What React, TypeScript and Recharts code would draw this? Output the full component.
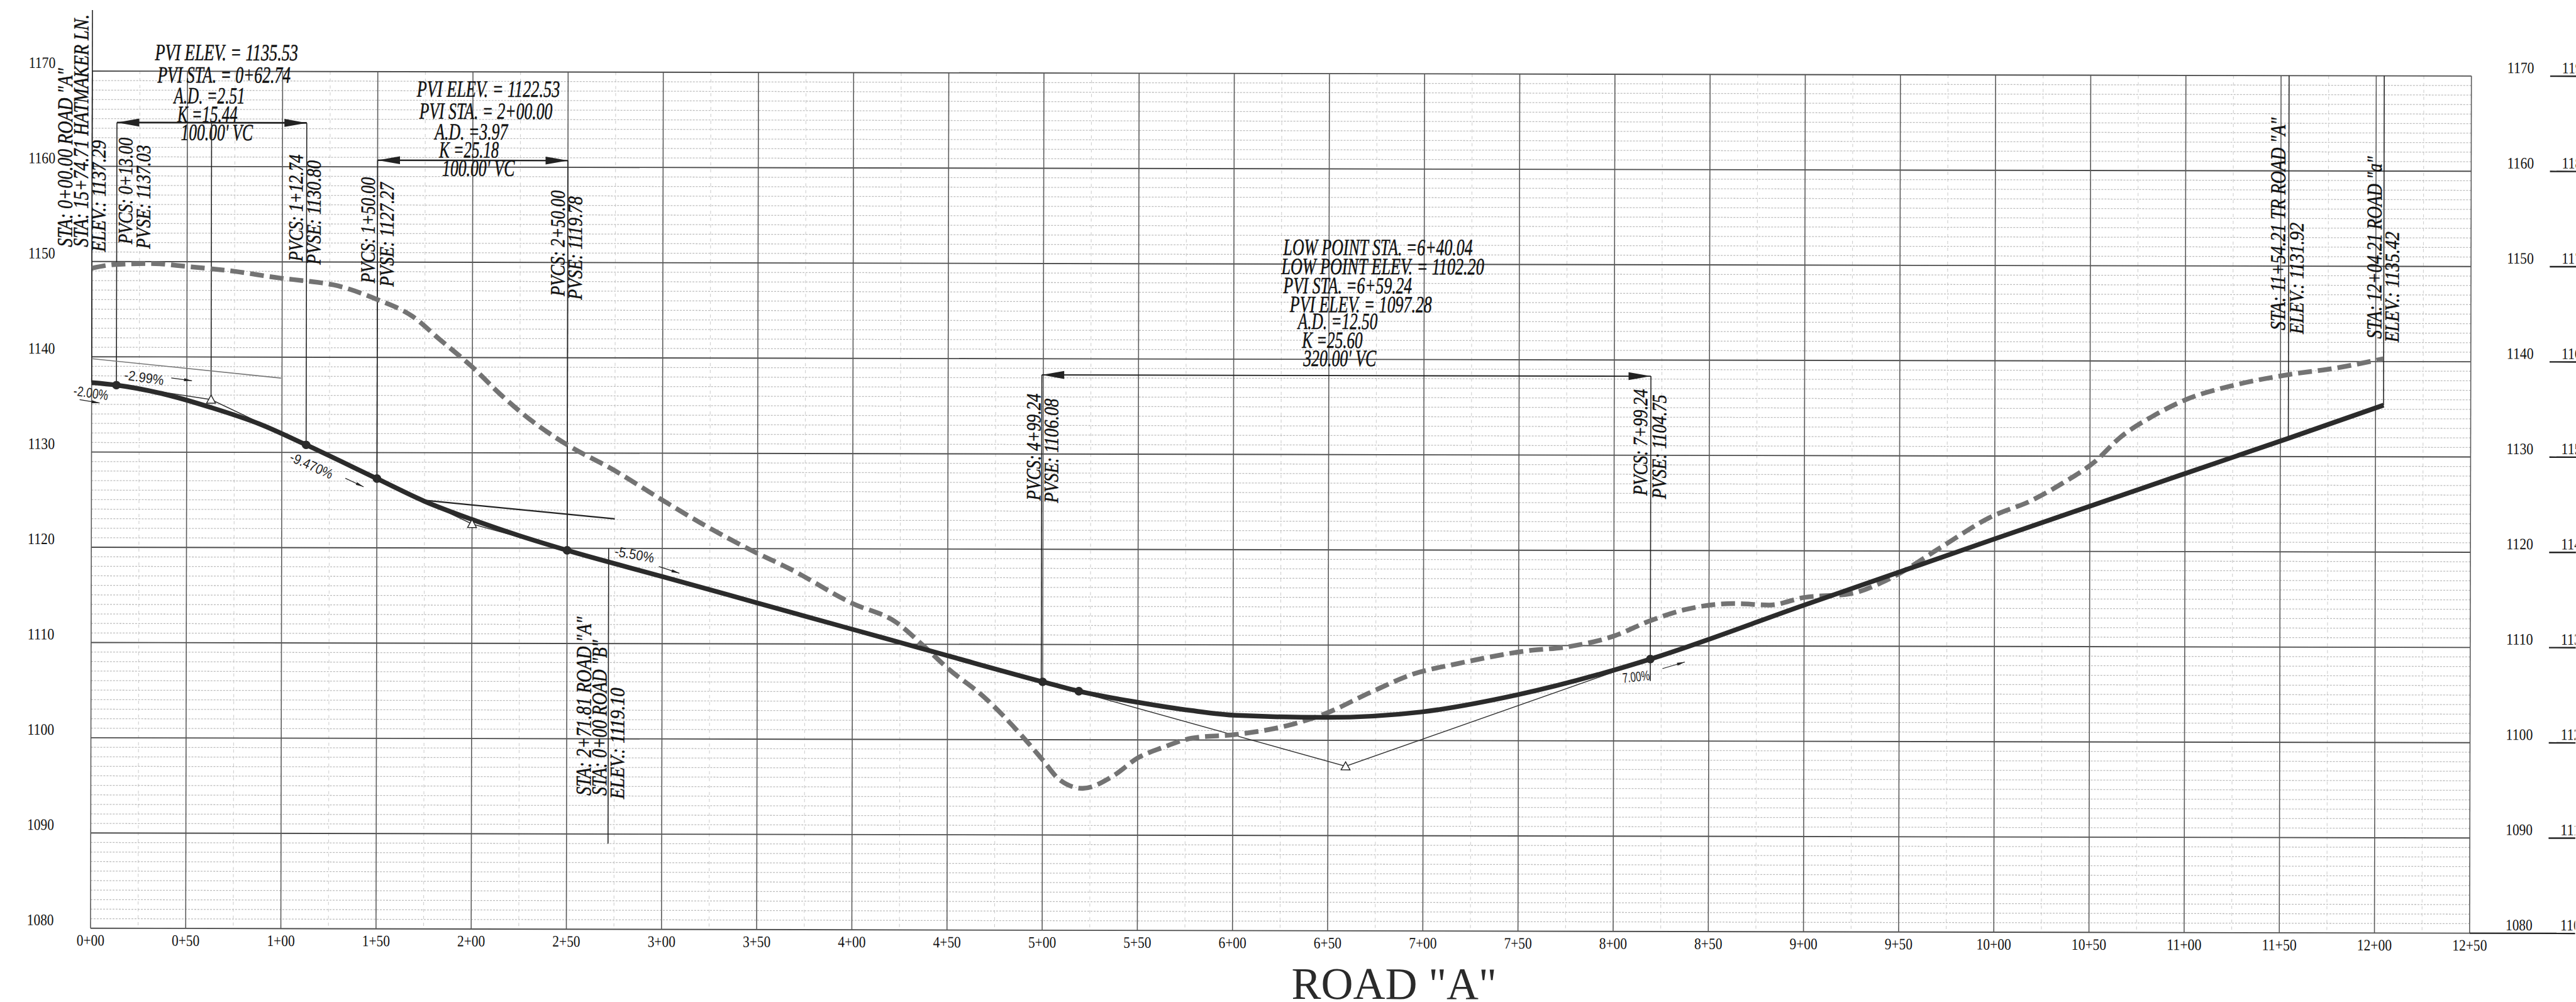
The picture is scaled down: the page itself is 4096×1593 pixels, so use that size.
import { CartesianGrid, ComposedChart, Line, ReferenceLine, XAxis, YAxis } from "recharts";

// everything below was measured on the 5184 wide reference, S brings it to the window
const S = 0.79;
const TILT = 0.0021; // the scan sits about 0.12deg clockwise
const WIDTH = 4096;
const HEIGHT = 1593;
const PLOT_LEFT = 184 * S;
const PLOT_RIGHT = 4972.5 * S;
const PLOT_TOP = 148 * S;
const PLOT_BOTTOM = 1873 * S;
const NEXT_SHEET_X = 5131 * S;

const stationTicks = [
  0, 50, 100, 150, 200, 250, 300, 350, 400, 450, 500, 550, 600, 650, 700, 750, 800, 850, 900, 950, 1000, 1050,
  1100, 1150, 1200, 1250,
];
const stationLabels = [
  "0+00", "0+50", "1+00", "1+50", "2+00", "2+50", "3+00", "3+50", "4+00", "4+50", "5+00", "5+50", "6+00", "6+50",
  "7+00", "7+50", "8+00", "8+50", "9+00", "9+50", "10+00", "10+50", "11+00", "11+50", "12+00", "12+50",
];
const elevTicks = [1080, 1090, 1100, 1110, 1120, 1130, 1140, 1150, 1160, 1170];
// the next profile on the sheet starts at the right edge and is cut off by it
const nextSheetLabels = ["1100", "1110", "1120", "1130", "1140", "1150", "1160", "1170", "1180", "1190"];

const minorStations = stationTicks.slice(0, -1).map((s) => s + 25);
const minorElevs = Array.from({ length: 91 }, (_, i) => 1080 + i).filter((e) => e % 10 !== 0);

const gradeStations = [
  0, 13, 38, 62.74, 88, 112.74, 150, 175, 200, 225, 250, 300, 350, 400, 450, 500, 519, 550, 578, 602, 648, 699, 749,
  799.5, 819.24, 900, 1000, 1100, 1154.21, 1204.21,
];
const gradeElevs = [
  1137.29, 1137.03, 1136.1, 1134.7, 1133.0, 1130.8, 1127.27, 1124.9, 1123.0, 1121.3, 1119.78, 1117.05, 1114.3,
  1111.55, 1108.8, 1106.08, 1105.1, 1103.95, 1103.1, 1102.6, 1102.4, 1103.0, 1104.8, 1107.4, 1108.6, 1114.3, 1121.3,
  1128.2, 1131.92, 1135.42,
];

const groundStations = [
  0, 12.5, 31, 50, 75, 99, 112.7, 127, 149.6, 168.6, 182.8, 200, 215, 231.7, 250.4, 273.7, 299.8, 320, 346, 366.9,
  399.6, 422.9, 437, 450, 469.6, 490.5, 500, 509, 521, 537, 550, 563, 578.5, 601.9, 629.8, 648.5, 671.8, 695, 718.5,
  753, 776.8, 799.9, 818.8, 837.4, 863, 881.7, 900, 924, 944, 971.8, 997, 1020, 1036, 1052.4, 1066, 1082, 1100.8,
  1126, 1154, 1179, 1204,
];
const groundElevs = [
  1149.3, 1149.7, 1149.8, 1149.5, 1149.0, 1148.3, 1148.0, 1147.6, 1146.1, 1144.3, 1141.9, 1139.0, 1136.1, 1133.3,
  1130.8, 1128.3, 1125.1, 1122.7, 1119.9, 1117.9, 1114.3, 1112.3, 1109.9, 1107.5, 1104.4, 1100.1, 1097.9, 1095.8,
  1094.9, 1096.2, 1098.1, 1099.2, 1100.2, 1100.6, 1101.6, 1102.8, 1105.0, 1107.0, 1108.1, 1109.4, 1109.9, 1111.0,
  1112.6, 1113.8, 1114.45, 1114.3, 1115.1, 1115.5, 1117.0, 1120.4, 1123.5, 1125.4, 1127.2, 1129.4, 1132.0, 1134.1,
  1136.0, 1137.5, 1138.6, 1139.3, 1140.3,
];

const pvcStations = [13, 112.74, 150, 250, 500, 519, 819.24];
const pvcElevs = [1137.03, 1130.8, 1127.27, 1119.78, 1106.08, 1105.1, 1108.6];
const pviStations = [62.74, 200, 659.24];
const pviElevs = [1135.53, 1122.53, 1097.28];

const zip = (xs: number[], ys: number[]) => xs.map((station, i) => ({ station, elev: ys[i] }));

const gradeData = zip(gradeStations, gradeElevs);
const groundData = zip(groundStations, groundElevs);
const pvcData = zip(pvcStations, pvcElevs);
const pviData = zip(pviStations, pviElevs);
const tangents = [
  zip([13, 62.74, 112.74], [1137.03, 1135.53, 1130.8]),
  zip([150, 200, 250], [1127.27, 1122.53, 1119.78]),
  zip([500, 659.24, 819.24], [1106.08, 1097.28, 1108.6]),
];
const oldTangent = zip([0, 99.5], [1139.8, 1137.8]);
const roadBGrade = zip([175, 275], [1125, 1123.1]);

// [station, from elev, to elev]
const leaders = [
  [0, 1176.4, 1137.3],
  [13, 1164.6, 1137.03],
  [62.74, 1164.6, 1135.53],
  [112.74, 1164.6, 1130.8],
  [150, 1160.7, 1127.27],
  [250, 1160.7, 1119.78],
  [271.81, 1120, 1089],
  [499.24, 1138.3, 1106.08],
  [819.24, 1138.3, 1106.3],
  [1154.21, 1170, 1131.92],
  [1204.21, 1170, 1135.42],
];
// [from station, to station, elev, line width]
const spans = [
  [13, 112.74, 1164.6, 3.5],
  [150, 250, 1160.7, 3],
  [499.24, 819.24, 1138.3, 2.5],
];
// [station, elev, station, elev]
const slopeArrows = [
  [-6.3, 1135.5, 4.2, 1135.15],
  [41.8, 1137.8, 52.7, 1137.5],
  [133.4, 1127.3, 143, 1126.4],
  [298.2, 1118.1, 309, 1117.4],
  [825.6, 1107.6, 837.4, 1108.3],
];

// [text, baseline x, bottom y, length, font size] in reference pixels
const verticalNotes: [string, number, number, number, number?][] = [
  ['STA: 0+00.00 ROAD "A"', 145, 497, 360, 43],
  ["STA: 15+74.71 HATMAKER LN.", 177, 497, 468, 43],
  ["ELEV.: 1137.29", 212, 507, 225],
  ["PVCS: 0+13.00", 266, 491, 214],
  ["PVSE: 1137.03", 302, 500.6, 209],
  ["PVCS: 1+12.74", 609, 526, 215],
  ["PVSE: 1130.80", 645, 532.5, 210],
  ["PVCS: 1+50.00", 754, 569.5, 213],
  ["PVSE: 1127.27", 792, 577, 210],
  ["PVCS: 2+50.00", 1136, 596, 213],
  ["PVSE: 1119.78", 1171, 603, 208],
  ['STA: 2+71.81 ROAD "A"', 1189, 1601, 360, 43],
  ['STA: 0+00 ROAD "B"', 1220.5, 1601, 313, 43],
  ["ELEV.: 1119.10", 1256, 1608, 224],
  ["PVCS: 4+99.24", 2094, 1007, 215],
  ["PVSE: 1106.08", 2129.5, 1012, 210],
  ["PVCS: 7+99.24", 3315, 997, 214],
  ["PVSE: 1104.75", 3353, 1004, 210],
  ['STA: 11+54.21 TR ROAD "A"', 4599, 664.6, 428, 43],
  ["ELEV.: 1131.92", 4636, 672, 224],
  ['STA: 12+04.21 ROAD "a"', 4793, 681.5, 367, 43],
  ["ELEV.: 1135.42", 4828, 689, 223],
];
// [text, left x, baseline y, width]
const curveNotes: [string, number, number, number][] = [
  ["PVI ELEV. = 1135.53", 312, 121, 288],
  ["PVI STA. = 0+62.74", 317, 166, 268],
  ["A.D. =2.51", 350, 208, 143],
  ["K =15.44", 357, 245.5, 121],
  ["100.00' VC", 364, 282, 145],
  ["PVI ELEV. = 1122.53", 839, 194.5, 288],
  ["PVI STA. = 2+00.00", 844, 239, 268],
  ["A.D. =3.97", 875, 280.6, 147],
  ["K =25.18", 884, 317, 120],
  ["100.00' VC", 890, 354, 146],
  ["LOW POINT STA. =6+40.04", 2583, 513, 381],
  ["LOW POINT ELEV. = 1102.20", 2579, 551.5, 408],
  ["PVI STA. =6+59.24", 2583, 590, 259],
  ["PVI ELEV. = 1097.28", 2596, 628, 286],
  ["A.D. =12.50", 2612.5, 662, 160],
  ["K =25.60", 2620.5, 700, 122],
  ["320.00' VC", 2623, 736.6, 147],
];
// [text, centre x, centre y, angle, width]
const slopeNotes: [string, number, number, number, number][] = [
  ["-2.00%", 183, 791, 8, 70],
  ["-2.99%", 290, 760, 8, 80],
  ["-9.470%", 627, 937, 24, 92],
  ["-5.50%", 1277, 1116, 10, 80],
  ["7.00%", 3293, 1362, -6, 55],
];

const place = (x: number, y: number) => ({
  x: (x + (y - 1008) * TILT) * S,
  y: (y + (2592 - x) * TILT) * S,
});

const tickFont = { fontFamily: "Liberation Serif", fontSize: 32 * S, fill: "#111" };

function StationTick({ x, y, payload }: any) {
  const label = stationLabels[stationTicks.indexOf(payload.value)];
  return (
    <text x={x} y={y + 35 * S} textAnchor="middle" textLength={label.length * 14 * S} lengthAdjust="spacingAndGlyphs" {...tickFont}>
      {label}
    </text>
  );
}

function LeftElevTick({ x, y, payload }: any) {
  return (
    <text x={x - 101 * S} y={y - 6 * S} textAnchor="middle" textLength={54 * S} lengthAdjust="spacingAndGlyphs" {...tickFont}>
      {payload.value}
    </text>
  );
}

function RightElevTick({ x, y, payload }: any) {
  return (
    <text x={x + 45.5 * S} y={y - 6 * S} textAnchor="middle" textLength={54 * S} lengthAdjust="spacingAndGlyphs" {...tickFont}>
      {payload.value}
    </text>
  );
}

function NextSheetTick({ x, y, payload }: any) {
  const label = nextSheetLabels[elevTicks.indexOf(payload.value)];
  const from = payload.value === 1080 ? PLOT_RIGHT : NEXT_SHEET_X;
  return (
    <g>
      <line x1={from} x2={WIDTH + 20} y1={y} y2={y} stroke="#222" strokeWidth={3 * S} />
      <text x={NEXT_SHEET_X + 24 * S} y={y - 6 * S} textLength={54 * S} lengthAdjust="spacingAndGlyphs" {...tickFont}>
        {label}
      </text>
    </g>
  );
}

function TriangleDot({ cx, cy }: any) {
  const r = 9 * S;
  return (
    <path
      key={cx}
      d={`M${cx},${cy - r} L${cx + r},${cy + r * 0.8} L${cx - r},${cy + r * 0.8} Z`}
      fill="#fff"
      stroke="#222"
      strokeWidth={1.8 * S}
    />
  );
}

function head(x: number, y: number, ux: number, uy: number, len: number, half: number) {
  return `M${x},${y} L${x - ux * len - uy * half},${y - uy * len + ux * half} L${x - ux * len + uy * half},${y - uy * len - ux * half} Z`;
}

function SpanArrow({ x1, y1, x2, y2, width }: any) {
  const len = 45 * S;
  const half = 8 * S;
  return (
    <g fill="#222">
      <line x1={x1} y1={y1} x2={x2} y2={y2} stroke="#222" strokeWidth={width * S} />
      <path d={head(x1, y1, -1, 0, len, half)} />
      <path d={head(x2, y2, 1, 0, len, half)} />
    </g>
  );
}

function SlopeArrow({ x1, y1, x2, y2 }: any) {
  const d = Math.hypot(x2 - x1, y2 - y1) || 1;
  return (
    <g fill="#222">
      <line x1={x1} y1={y1} x2={x2} y2={y2} stroke="#222" strokeWidth={1.6 * S} />
      <path d={head(x2, y2, (x2 - x1) / d, (y2 - y1) / d, 16 * S, 3 * S)} />
    </g>
  );
}

export default function App() {
  return (
    <div
      style={{
        position: "absolute",
        left: 0,
        top: 0,
        width: WIDTH,
        height: HEIGHT,
        background: "#fff",
        transform: "rotate(0.12deg)",
        transformOrigin: "center",
      }}
    >
      <ComposedChart width={WIDTH} height={HEIGHT} margin={{ top: PLOT_TOP, right: 0, bottom: 0, left: 0 }}>
        <CartesianGrid horizontal={false} verticalValues={minorStations} stroke="#cfcfcf" strokeWidth={1.4 * S} strokeDasharray="5 6" />
        <CartesianGrid vertical={false} horizontalValues={minorElevs} stroke="#bdbdbd" strokeWidth={1.6 * S} strokeDasharray="3 2" />
        <CartesianGrid vertical={false} horizontalValues={elevTicks} stroke="#4d4d4d" strokeWidth={2.4 * S} />
        <CartesianGrid horizontal={false} verticalValues={stationTicks} stroke="#5a5a5a" strokeWidth={2 * S} />

        <XAxis
          dataKey="station"
          type="number"
          domain={[0, 1250]}
          ticks={stationTicks}
          interval={0}
          height={HEIGHT - PLOT_BOTTOM}
          axisLine={false}
          tickLine={false}
          tickSize={0}
          tickMargin={0}
          tick={<StationTick />}
          allowDataOverflow
        />
        <YAxis
          type="number"
          domain={[1080, 1170]}
          ticks={elevTicks}
          interval={0}
          width={PLOT_LEFT}
          axisLine={false}
          tickLine={false}
          tickSize={0}
          tickMargin={0}
          tick={<LeftElevTick />}
          allowDataOverflow
        />
        <YAxis
          yAxisId="right"
          orientation="right"
          type="number"
          domain={[1080, 1170]}
          ticks={elevTicks}
          interval={0}
          width={NEXT_SHEET_X - PLOT_RIGHT}
          axisLine={false}
          tickLine={false}
          tickSize={0}
          tickMargin={0}
          tick={<RightElevTick />}
          allowDataOverflow
        />
        <YAxis
          yAxisId="next"
          orientation="right"
          type="number"
          domain={[1080, 1170]}
          ticks={elevTicks}
          interval={0}
          width={WIDTH - NEXT_SHEET_X}
          axisLine={false}
          tickLine={false}
          tickSize={0}
          tickMargin={0}
          tick={<NextSheetTick />}
          allowDataOverflow
        />
        {/* the right hand axes only stay on the chart with a series of their own */}
        <Line yAxisId="right" data={gradeData} dataKey="elev" stroke="none" dot={false} isAnimationActive={false} />
        <Line yAxisId="next" data={gradeData} dataKey="elev" stroke="none" dot={false} isAnimationActive={false} />

        {leaders.map(([station, from, to]) => (
          <ReferenceLine
            key={station}
            segment={[{ x: station, y: from }, { x: station, y: to }]}
            stroke="#222"
            strokeWidth={2 * S}
            ifOverflow="visible"
          />
        ))}
        {spans.map(([from, to, elev, width]) => (
          <ReferenceLine
            key={from}
            segment={[{ x: from, y: elev }, { x: to, y: elev }]}
            ifOverflow="visible"
            shape={(p: any) => <SpanArrow {...p} width={width} />}
          />
        ))}
        {slopeArrows.map(([s1, e1, s2, e2]) => (
          <ReferenceLine
            key={s1}
            segment={[{ x: s1, y: e1 }, { x: s2, y: e2 }]}
            ifOverflow="visible"
            shape={(p: any) => <SlopeArrow {...p} />}
          />
        ))}

        <Line data={oldTangent} dataKey="elev" stroke="#777" strokeWidth={2 * S} dot={false} isAnimationActive={false} />
        <Line data={roadBGrade} dataKey="elev" stroke="#222" strokeWidth={3 * S} dot={false} isAnimationActive={false} />
        {tangents.map((points) => (
          <Line
            key={points[1].station}
            data={points}
            dataKey="elev"
            stroke="#333"
            strokeWidth={1.8 * S}
            dot={false}
            isAnimationActive={false}
          />
        ))}
        <Line
          data={groundData}
          dataKey="elev"
          type="monotone"
          stroke="#737373"
          strokeWidth={9.5 * S}
          strokeDasharray={`${28 * S} ${12 * S}`}
          dot={false}
          isAnimationActive={false}
        />
        <Line
          data={gradeData}
          dataKey="elev"
          type="monotone"
          stroke="#2b2b2b"
          strokeWidth={9.5 * S}
          dot={false}
          isAnimationActive={false}
        />
        <Line
          data={pvcData}
          dataKey="elev"
          stroke="none"
          dot={{ r: 8 * S, fill: "#2b2b2b", stroke: "#2b2b2b" }}
          isAnimationActive={false}
        />
        <Line data={pviData} dataKey="elev" stroke="none" dot={<TriangleDot />} isAnimationActive={false} />

        <g fontFamily="Liberation Serif" fontStyle="italic" fill="#111" stroke="#111" strokeWidth={0.5}>
          {verticalNotes.map(([text, x, y, len, size]) => {
            const p = place(x, y);
            return (
              <text
                key={text}
                x={p.x}
                y={p.y}
                fontSize={(size ?? 41) * S}
                textLength={len * S}
                lengthAdjust="spacingAndGlyphs"
                transform={`rotate(-90 ${p.x} ${p.y})`}
              >
                {text}
              </text>
            );
          })}
          {curveNotes.map(([text, x, y, len]) => {
            const p = place(x, y);
            return (
              <text key={text} x={p.x} y={p.y} fontSize={47 * S} textLength={len * S} lengthAdjust="spacingAndGlyphs">
                {text}
              </text>
            );
          })}
        </g>
        <g fontFamily="Liberation Sans" fill="#222">
          {slopeNotes.map(([text, x, y, angle, len]) => {
            const p = place(x, y);
            return (
              <text
                key={text}
                x={p.x}
                y={p.y}
                fontSize={28 * S}
                textAnchor="middle"
                dominantBaseline="central"
                textLength={len * S}
                lengthAdjust="spacingAndGlyphs"
                transform={`rotate(${angle} ${p.x} ${p.y})`}
              >
                {text}
              </text>
            );
          })}
        </g>
        <text
          x={2808 * S}
          y={2010 * S}
          textAnchor="middle"
          fontFamily="Liberation Serif"
          fontSize={91 * S}
          textLength={413 * S}
          lengthAdjust="spacingAndGlyphs"
          fill="#2a2a2a"
        >
          ROAD "A"
        </text>
      </ComposedChart>
    </div>
  );
}
